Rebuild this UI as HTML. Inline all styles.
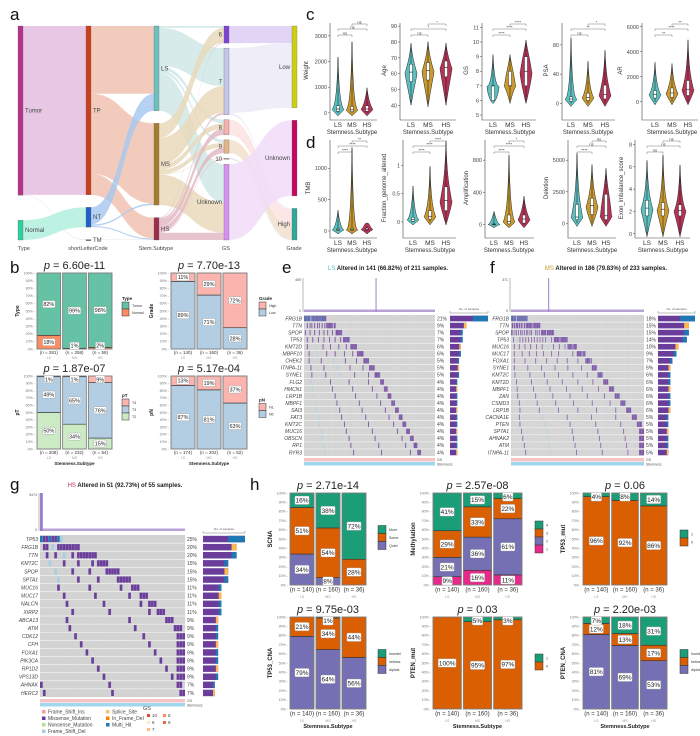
<!DOCTYPE html>
<html><head><meta charset="utf-8"><style>
html,body{margin:0;padding:0;background:#fff;}
svg{display:block;font-family:"Liberation Sans",sans-serif;}
</style></head><body>
<svg id="fig" width="700" height="736" viewBox="0 0 700 736"></svg>
<script>
// ===== Sankey data (panel a) =====
const layerNames=['Type','shortLetterCode','Stem.Subtype','GS','Grade'];
const layerNodes=[['Tumor','Normal'],['TP','NT','TM'],['LS','MS','HS'],['6','7','8','9','10','Unknown'],['Low','Unknown','High']];
const flowSrc=['0:Tumor','0:Tumor','0:Normal','1:TP','1:TP','1:TP','1:NT','1:NT','1:NT','1:TM',
'2:LS','2:LS','2:LS','2:LS','2:LS','2:MS','2:MS','2:MS','2:MS','2:MS','2:MS','2:HS','2:HS','2:HS','2:HS','2:HS','2:HS',
'3:6','3:7','3:7','3:8','3:9','3:10','3:Unknown'];
const flowDst=['1:TP','1:TM','1:NT','2:LS','2:MS','2:HS','2:LS','2:MS','2:HS','2:HS',
'3:6','3:7','3:8','3:9','3:Unknown','3:6','3:7','3:8','3:9','3:10','3:Unknown','3:6','3:7','3:8','3:9','3:10','3:Unknown',
'4:Low','4:Low','4:High','4:High','4:High','4:High','4:Unknown'];
const flowVal=[444,1,52,178,211,55,45,4,3,1,
5,100,10,8,100,38,70,14,12,1,80,2,5,16,15,2,19,
45,170,5,40,35,3,199];

// ===== Violin data (panels c,d) : [min,q1,median,q3,max] per LS,MS,HS =====
const vWeight=[[0,60,150,280,2100],[0,50,120,250,2700],[0,60,150,280,900]];
const vAge=[[42,55,61,66,78],[41,56,62,67,79],[42,58,64,68,78]];
const vGS=[[6,6,7,7,9],[6,7,7,8,9],[6,7,8,9,10]];
const vPSA=[[0,3,6,9,87],[0,4,8,14,55],[0,6,12,25,70]];
const vAR=[[0,300,600,900,3000],[0,350,700,1100,2900],[0,500,1000,1700,4800]];
const vTMB=[[0,10,20,40,300],[0,10,20,40,1300],[0,15,25,45,80]];
const vFrac=[[0,0.01,0.04,0.08,0.6],[0,0.05,0.1,0.2,0.95],[0,0.2,0.38,0.62,1.4]];
const vAmp=[[0,0,5,10,140],[0,10,40,120,840],[0,20,70,120,330]];
const vDel=[[0,300,500,1500,5400],[0,700,1400,2000,4500],[0,300,600,2300,4200]];
const vExon=[[0,1.6,2.3,3,6.4],[0,1.6,2.2,2.8,6.9],[0,1.6,2.1,2.6,6]];
const sigWeight=['ns','ns','ns'],sigAge=['ns','*','*'],sigGS=['****','****','****'],sigPSA=['ns','**','*'],sigAR=['**','****','**'];
const sigTMB=['****','****','**'],sigFrac=['****','****','****'],sigAmp=['****','****','*'],sigDel=['****','ns','ns'],sigExon=['ns','ns','ns'];
const groups=['LS','MS','HS'];

// ===== Stacked bar data (panels b,h): segments bottom->top, values LS,MS,HS =====
const bType=[[18,1,2],[82,99,98]];
const bGrade=[[89,71,28],[11,29,72]];
const bPT=[[50,34,15],[49,65,76],[1,1,9]];
const bPN=[[87,81,63],[13,19,37]];
const hSCNA=[[34,8,0],[51,54,28],[16,38,72]];
const hMeth=[[9,16,11],[21,36,61],[29,33,22],[41,15,6]];
const hTP53mut=[[96,92,86],[4,8,14]];
const hTP53cna=[[79,64,56],[21,34,44],[0,1,0]];
const hPTENmut=[[100,95,97],[0,5,3]];
const hPTENcna=[[81,69,53],[12,13,17],[7,18,31]];
const nB1=['(n = 281)','(n = 258)','(n = 58)'],nB2=['(n = 140)','(n = 160)','(n = 36)'],nB3=['(n = 208)','(n = 232)','(n = 54)'],nB4=['(n = 174)','(n = 202)','(n = 52)'];
const nH=['(n = 140)','(n = 160)','(n = 36)'];

// ===== Oncoprint data (panels e,f,g) =====
const genesE=['FRG1B','TTN','SPOP','TP53','KMT2D','MBPF10','CHEK2','ITNPA-11','SYNE1','FLG2','HMCN1','LRP1B','MBPF1','SAI3','FAT3','KMT2C','MUC16','OBSCN','RP1','RYR3'];
const pctE=[21,9,7,7,6,6,5,5,5,4,4,4,4,4,4,4,4,4,4,4];
const genesF=['FRG1B','TTN','SPOP','TP53','MUC16','MUC17','FOXA1','SYNE1','KMT2C','KMT2D','MBPF1','ZAN','CSMD3','LRP1B','CACNA1E','PTEN','SPTA1','AHNAK2','ATM','ITNPA-11'];
const pctF=[18,15,15,14,10,9,7,6,6,6,6,6,6,6,5,5,5,5,5,5];
const genesG=['TP53','FRG1B','TTN','KMT2C','SPOP','SPTA1','MUC16','MUC17','NALCN','XIRP2','ABCA13','ATM','CDK12','CFH','FOXA1','PIK3CA','RP1D2','VPS13D','AHNAK','HERC2'];
const pctG=[25,20,20,15,15,15,11,11,11,11,9,9,9,9,9,9,9,9,7,7];

const NS='http://www.w3.org/2000/svg';
const svg=document.getElementById('fig');
function mk(tag,parent,attrs){const e=document.createElementNS(NS,tag);for(const k in attrs)e.setAttribute(k,attrs[k]);(parent||svg).appendChild(e);return e;}
function tx(parent,x,y,s,size,fill,anchor,extra){const e=mk('text',parent,{x:x,y:y,'font-size':size,fill:fill||'#222','text-anchor':anchor||'start'});if(extra)for(const k in extra)e.setAttribute(k,extra[k]);e.textContent=s;return e;}

// panel letters
[['a',10,20],['b',10,273],['c',306,20],['d',306,148],['e',282,273],['f',490,273],['g',10,490],['h',250,490]].forEach(p=>{
  const t=tx(svg,p[1],p[2],p[0],17,'#111');
  
  
});

// ===== Sankey =====
(function(){
  const g=mk('g');
  
  
  const colX=[18,86,154,224,292],nw=5,top=26,H=214;
  const nodeCol={'0:Tumor':'#b5338a','0:Normal':'#2fcf9f','1:TP':'#c93e1c','1:NT':'#1f5fc9','1:TM':'#555','2:LS':'#6cc0bd','2:MS':'#a67d2c','2:HS':'#9c2d4c','3:6':'#7a44d6','3:7':'#c5c5ea','3:8':'#f7b0b0','3:9':'#e2b48a','3:10':'#aaa','3:Unknown':'#d590f2','4:Low':'#cfcf10','4:Unknown':'#c4095e','4:High':'#2ea898'};
  const flowCol={'0:Tumor':'#e4bde0','0:Normal':'#b2efdc','1:TP':'#f1c2b2','1:NT':'#a9c9ee','1:TM':'#ddd','2:LS':'#cfe8e6','2:MS':'#e9d9bb','2:HS':'#e2b8c4','3:6':'#dcccf3','3:7':'#ebeaf7','3:8':'#fde2e2','3:9':'#f2dfcc','3:10':'#ddd','3:Unknown':'#f1dcf9'};
  const val={};
  flowSrc.forEach((s,i)=>{val[s]=(val[s]||0)+flowVal[i];});
  flowDst.forEach((d,i)=>{if(d[0]!=='0'&&(d[0]==='4'||!flowSrc.includes(d)))val[d]=(val[d]||0)+flowVal[i];});
  let total=0;layerNodes[0].forEach(n=>total+=val['0:'+n]);
  const sc=(H-5*5)/total;
  const pos={},outOff={},inOff={};
  layerNodes.forEach((nodes,L)=>{
    let sum=0;nodes.forEach(n=>sum+=val[L+':'+n]*sc);
    const gap=nodes.length>1?(H-sum)/(nodes.length-1):0;
    let y=top;
    nodes.forEach(n=>{const k=L+':'+n;pos[k]=[y,val[k]*sc];outOff[k]=0;inOff[k]=0;y+=val[k]*sc+gap;});
  });
  flowVal.forEach((v,i)=>{
    const s=flowSrc[i],d=flowDst[i],h=v*sc;
    const x1=colX[+s[0]]+nw,x2=colX[+d[0]];
    const y1=pos[s][0]+outOff[s],y2=pos[d][0]+inOff[d];
    outOff[s]+=h;inOff[d]+=h;
    const mx=(x1+x2)/2;
    const p=mk('path',g,{d:`M${x1},${y1}C${mx},${y1} ${mx},${y2} ${x2},${y2}L${x2},${y2+h}C${mx},${y2+h} ${mx},${y1+h} ${x1},${y1+h}Z`,fill:flowCol[s],'fill-opacity':0.85});
    
    
  });
  layerNodes.forEach((nodes,L)=>{
    nodes.forEach(n=>{
      const k=L+':'+n;
      const r=mk('rect',g,{x:colX[L],y:pos[k][0],width:nw,height:Math.max(pos[k][1],1),fill:nodeCol[k],stroke:'#666','stroke-width':0.3});
      
      
      const lx=L===3?colX[L]-2:(L===4?colX[L]-2:colX[L]+nw+2);
      const t=tx(g,lx,pos[k][0]+pos[k][1]/2+2,n,6,'#444',(L>=3)?'end':'start');
      
      
    });
    const t=tx(g,colX[L]+(L===0?0:2),250,layerNames[L],5.5,'#444',L===0?'start':'middle');
    
    
  });
})();

// ===== Violins =====
const vCol=['#5bbfbf','#c9992e','#b63358'];
function violin(cfg){
  const g=mk('g');
  
  
  const y=v=>cfg.y1-(v-cfg.d0)/(cfg.d1-cfg.d0)*(cfg.y1-cfg.y0);
  const ax=mk('path',g,{d:`M${cfg.ax},${cfg.y0}V${cfg.y1+2}H${cfg.gx[2]+10}`,stroke:'#444','stroke-width':0.6,fill:'none'});
  
  
  cfg.ticks.forEach(t=>{
    mk('line',g,{x1:cfg.ax-2,x2:cfg.ax,y1:y(t),y2:y(t),stroke:'#444','stroke-width':0.5});
    const l=tx(g,cfg.ax-3,y(t)+2,String(t),5.5,'#444','end');
    
    
  });
  const yl=tx(g,0,0,cfg.ylab,6,'#333','middle',{transform:`translate(${cfg.ax-(cfg.lw||18)},${(cfg.y0+cfg.y1)/2}) rotate(-90)`});
  
  
  cfg.data.forEach((s,i)=>{
    const cx=cfg.gx[i],w=7;
    const [mn,q1,md,q3,mx]=s;
    const yb=y(mn)+3,yt=y(mx)-2;
    const p=mk('path',g,{d:`M${cx},${yb}C${cx-w*0.6},${y(q1)} ${cx-w},${y(md)} ${cx-w*0.8},${y(md)}C${cx-w*0.5},${y(q3)} ${cx-1},${y(q3)-8} ${cx},${yt}C${cx+1},${y(q3)-8} ${cx+w*0.5},${y(q3)} ${cx+w*0.8},${y(md)}C${cx+w},${y(md)} ${cx+w*0.6},${y(q1)} ${cx},${yb}Z`,fill:vCol[i],stroke:'#222','stroke-width':0.5});
    
    
    mk('line',g,{x1:cx,x2:cx,y1:y(mn),y2:y(mx),stroke:'#111','stroke-width':0.5});
    const b=mk('rect',g,{x:cx-1.5,y:y(q3),width:3,height:Math.max(y(q1)-y(q3),1),fill:'#fff',stroke:'#111','stroke-width':0.4});
    
    
    mk('line',g,{x1:cx-1.5,x2:cx+1.5,y1:y(md),y2:y(md),stroke:'#111','stroke-width':0.6});
    const l=tx(g,cx,cfg.y1+9,groups[i],6.5,'#333','middle');
    
    
  });
  const xt=tx(g,cfg.gx[1],cfg.y1+16,'Stemness.Subtype',6,'#333','middle');
  
  
  const pairs=[[0,1,cfg.y0+12],[0,2,cfg.y0+6],[1,2,cfg.y0+1]];
  pairs.forEach((pr,k)=>{
    const a=cfg.gx[pr[0]],b=cfg.gx[pr[1]],yy=pr[2];
    mk('path',g,{d:`M${a},${yy+2}V${yy}H${b}V${yy+2}`,stroke:'#555','stroke-width':0.4,fill:'none'});
    const l=tx(g,(a+b)/2,yy-0.5,cfg.sig[k],4,'#333','middle');
    
    
  });
}
const cy0=23,cy1=118,dy0=140,dy1=236;
violin({ylab:'Weight',data:vWeight,sig:sigWeight,d0:-200,d1:3500,ticks:[0,1000,2000,3000],ax:330,gx:[338,352,367],y0:cy0,y1:cy1,lw:22});
violin({ylab:'Age',data:vAge,sig:sigAge,d0:32,d1:92,ticks:[40,50,60,70,80,90],ax:400,gx:[411,428,446],y0:cy0,y1:cy1,lw:14});
violin({ylab:'GS',data:vGS,sig:sigGS,d0:4.8,d1:11.3,ticks:[5,6,7,8,9,10,11],ax:482,gx:[493,510,526],y0:cy0,y1:cy1,lw:14});
violin({ylab:'PSA',data:vPSA,sig:sigPSA,d0:-20,d1:110,ticks:[0,40,80],ax:562,gx:[571,588,605],y0:cy0,y1:cy1,lw:14});
violin({ylab:'AR',data:vAR,sig:sigAR,d0:-1300,d1:6300,ticks:[0,2000,4000,6000],ax:642,gx:[655,672,688],y0:cy0,y1:cy1,lw:20});
violin({ylab:'TMB',data:vTMB,sig:sigTMB,d0:-80,d1:1450,ticks:[0,500,1000],ax:330,gx:[338,352,367],y0:dy0,y1:dy1,lw:20});
violin({ylab:'Fraction_genome_altered',data:vFrac,sig:sigFrac,d0:-0.25,d1:1.45,ticks:[0,0.5,1],ax:403,gx:[413,430,446],y0:dy0,y1:dy1,lw:17});
violin({ylab:'Amplification',data:vAmp,sig:sigAmp,d0:-140,d1:1050,ticks:[0,400,800],ax:485,gx:[494,509,524],y0:dy0,y1:dy1,lw:17});
violin({ylab:'Deletion',data:vDel,sig:sigDel,d0:-1000,d1:6600,ticks:[0,2500,5000],ax:568,gx:[577,592,606],y0:dy0,y1:dy1,lw:20});
violin({ylab:'Exon_imbalance_score',data:vExon,sig:sigExon,d0:-0.2,d1:8.4,ticks:[0,2,4,6,8],ax:635,gx:[647,663,680],y0:dy0,y1:dy1,lw:12});

// ===== Stacked bars =====
function stack(cfg){
  const g=mk('g');
  
  
  const gap=2,bw=(cfg.w-2*gap)/3;
  const ys=v=>cfg.y+cfg.h-v/100*cfg.h;
  for(let t=0;t<=100;t+=10){
    const l=tx(g,cfg.x-2,ys(t)+1.3,t+'% -',3.6,'#777','end');
    
    
  }
  const yl=tx(g,0,0,cfg.ylab,cfg.ls||5,'#222','middle',{transform:`translate(${cfg.x-18},${cfg.y+cfg.h/2}) rotate(-90)`,'font-weight':'bold'});
  
  
  const ti=mk('text',g,{x:cfg.x+cfg.w/2,y:cfg.y-4,'font-size':11,fill:'#222','text-anchor':'middle'});
  ti.innerHTML='<tspan font-style="italic">p</tspan> = '+cfg.title;
  
  
  for(let i=0;i<3;i++){
    const bx=cfg.x+i*(bw+gap);
    let sum=0;cfg.series.forEach(s=>sum+=s[i]);
    let cum=0;
    cfg.series.forEach((s,k)=>{
      const v=s[i]*100/sum;
      const r=mk('rect',g,{x:bx,y:ys(cum+v),width:bw,height:v/100*cfg.h,fill:cfg.colors[k],stroke:'#333','stroke-width':0.6});
      
      
      cum+=v;
    });
    const o=mk('rect',g,{x:bx,y:cfg.y,width:bw,height:cfg.h,fill:'none',stroke:'#888','stroke-width':0.8});
    
    
    cum=0;
    cfg.series.forEach((s,k)=>{
      const v=s[i]*100/sum;
      if(s[i]>0||(cfg.showZero&&k===0)){
        const lab=s[i]+'%',fs=cfg.fs||5.5,lw=lab.length*fs*0.58+3;
        const cyy=Math.min(Math.max(ys(cum+v/2),cfg.y+fs*0.6),cfg.y+cfg.h-fs*0.6);
        const r=mk('rect',g,{x:bx+bw/2-lw/2,y:cyy-fs*0.65,width:lw,height:fs*1.3,rx:1,fill:'#fff',stroke:'#999','stroke-width':0.4});
        
        
        const t=tx(g,bx+bw/2,cyy+fs*0.36,lab,fs,'#222','middle');
        
        
      }
      cum+=v;
    });
    const n=tx(g,bx+bw/2,cfg.y+cfg.h+(cfg.fs?6.5:5),cfg.ns[i],cfg.fs?6:4.5,'#333','middle');
    
    
    const gl=tx(g,bx+bw/2,cfg.y+cfg.h+(cfg.fs?13:10),groups[i],3.5,'#999','middle');
    
    
  }
  if(cfg.xtitle){
    const xt=tx(g,cfg.x+cfg.w/2,cfg.y+cfg.h+(cfg.fs?19:16),'Stemness.Subtype',cfg.fs?5.5:4.5,'#222','middle',{'font-weight':'bold'});
    
    
  }
  const lx=cfg.x+cfg.w+cfg.lg,ly=cfg.y+cfg.h/2-cfg.keys.length*4.5;
  if(cfg.ltitle){
    const lt=tx(g,lx,ly-2,cfg.ltitle,4.5,'#222','start',{'font-weight':'bold'});
    
    
  }
  const ks=cfg.ks||7;
  cfg.keys.forEach((k,j)=>{
    const idx=cfg.keys.length-1-j;
    const r=mk('rect',g,{x:lx,y:ly+j*ks,width:ks,height:ks,fill:cfg.colors[idx],stroke:'#333','stroke-width':0.5});
    
    
    const t=tx(g,lx+ks+3,ly+j*ks+ks/2+1.3,cfg.keys[idx],3.6,'#333');
    
    
  });
}
const D2=['#7570b3','#d95f02','#1b9e77'];
stack({ylab:'Type',title:'6.60e-11',series:bType,colors:['#fc8d62','#66c2a5'],keys:['Normal','Tumor'],ltitle:'Type',ns:nB1,x:37,y:273,w:75,h:76,lg:10,ks:7});
stack({ylab:'Grade',title:'7.70e-13',series:bGrade,colors:['#b3cde3','#fbb4ae'],keys:['Low','High'],ltitle:'Grade',ns:nB2,x:171,y:273,w:76,h:76,lg:12,ks:7});
stack({ylab:'pT',title:'1.87e-07',series:bPT,colors:['#ccebc5','#b3cde3','#fbb4ae'],keys:['T2','T3','T4'],ltitle:'pT',ns:nB3,x:37,y:376,w:75,h:73,lg:10,ks:7,xtitle:true});
stack({ylab:'pN',title:'5.17e-04',series:bPN,colors:['#b3cde3','#fbb4ae'],keys:['N0','N1'],ltitle:'pN',ns:nB4,x:171,y:376,w:76,h:73,lg:12,ks:7,xtitle:true});
stack({ylab:'SCNA',title:'2.71e-14',series:hSCNA,colors:D2,keys:['Quiet','Some','More'],ns:nH,x:290,y:493,w:76,h:92,lg:12,ks:8,fs:6.5,ls:6});
stack({ylab:'Methylation',title:'2.57e-08',series:hMeth,colors:['#e7298a','#7570b3','#d95f02','#1b9e77'],keys:['1','2','3','4'],ns:nH,x:433,y:493,w:89,h:92,lg:13,ks:8,fs:6.5,ls:6,showZero:true});
stack({ylab:'TP53_mut',title:'0.06',series:hTP53mut,colors:['#d95f02','#1b9e77'],keys:['0','1'],ns:nH,x:583,y:493,w:84,h:92,lg:13,ks:8,fs:6.5,ls:6});
stack({ylab:'TP53_CNA',title:'9.75e-03',series:hTP53cna,colors:D2,keys:['diploid','hetloss','homdel'],ns:nH,x:290,y:617,w:76,h:92,lg:12,ks:8,fs:6.5,ls:6,xtitle:true});
stack({ylab:'PTEN_mut',title:'0.03',series:hPTENmut,colors:['#d95f02','#1b9e77'],keys:['0','1'],ns:nH,x:433,y:617,w:89,h:92,lg:13,ks:8,fs:6.5,ls:6,xtitle:true});
stack({ylab:'PTEN_CNA',title:'2.20e-03',series:hPTENcna,colors:D2,keys:['diploid','hetloss','homdel'],ns:nH,x:583,y:617,w:84,h:92,lg:13,ks:8,fs:6.5,ls:6,xtitle:true});

// ===== Oncoprints =====
function onco(cfg){
  const g=mk('g');
  
  
  const rows=cfg.genes.length,rh=cfg.h/rows,cw=cfg.w/cfg.N;
  const bg=mk('rect',g,{x:cfg.x,y:cfg.y,width:cfg.w,height:cfg.h,fill:'#d2d2d2'});
  
  
  let cursor=0;
  const maxP=Math.max(...cfg.pcts);
  cfg.pcts.forEach((p,i)=>{
    const cnt=Math.max(1,Math.round(p/100*cfg.total));
    const block=Math.max(1,Math.round(cnt*0.55));
    const scat=cnt-block;
    const cells=[];
    for(let c=0;c<block;c++)cells.push(Math.min(cfg.N-1,cursor+c));
    for(let k=0;k<scat&&cursor>0;k++)cells.push(Math.floor(((k+0.5)/scat)*cursor+i*2)%cursor);
    cursor=Math.min(cfg.N-block,cursor+block);
    cells.forEach((c,j)=>{
      const col=(i===0&&c%3===0)?'#1f78b4':((j%11===7)?'#a6cee3':'#6a3d9a');
      const r=mk('rect',g,{x:cfg.x+c*cw,y:cfg.y+i*rh+rh*0.12,width:Math.max(cw,0.8),height:rh*0.76,fill:col});
      
      
    });
    const gl=tx(g,cfg.x-2,cfg.y+i*rh+rh/2+1.8,cfg.genes[i],5,'#444','end',{'font-style':'italic'});
    
    
    const pl=tx(g,cfg.x+cfg.w+2,cfg.y+i*rh+rh/2+1.8,p+'%',5,'#444');
    
    
    const bwid=p/maxP*cfg.bw;
    const b=mk('rect',g,{x:cfg.bx,y:cfg.y+i*rh+rh*0.1,width:bwid,height:rh*0.8,fill:'#6a3d9a'});
    
    
    const b2=mk('rect',g,{x:cfg.bx+bwid*(i===0?0.6:0.85),y:cfg.y+i*rh+rh*0.1,width:bwid*(i===0?0.4:0.15),height:rh*0.8,fill:i%3===1?'#ffb74d':'#1f78b4'});
    
    
  });
  for(let i=1;i<rows;i++)mk('line',g,{x1:cfg.x,x2:cfg.x+cfg.w,y1:cfg.y+i*rh,y2:cfg.y+i*rh,stroke:'#fff','stroke-width':0.5});
  for(let c=1;c<cfg.N;c++)mk('line',g,{x1:cfg.x+c*cw,x2:cfg.x+c*cw,y1:cfg.y,y2:cfg.y+cfg.h,stroke:'#e8e8e8','stroke-width':0.15});
  // bar axis above
  mk('path',g,{d:`M${cfg.bx},${cfg.y-4}V${cfg.y-2}H${cfg.bx+cfg.bw}V${cfg.y-4}`,stroke:'#555','stroke-width':0.4,fill:'none'});
  tx(g,cfg.bx+cfg.bw/2,cfg.y-5,'No. of samples',3,'#555','middle');
  // TMB
  mk('line',g,{x1:cfg.x-1,x2:cfg.x-1,y1:cfg.ty,y2:cfg.ty+cfg.th,stroke:'#888','stroke-width':0.6});
  tx(g,cfg.x-3,cfg.ty+3,cfg.tmax,3.5,'#555','end');
  tx(g,cfg.x-3,cfg.ty+cfg.th,'0',3.5,'#555','end');
  const st=mk('rect',g,{x:cfg.x,y:cfg.ty+cfg.th-2.5,width:cfg.w,height:2.5,fill:'#b9a3d6'});
  
  
  const sp=mk('rect',g,{x:cfg.x+cfg.spike*cw,y:cfg.ty,width:Math.max(cw,1),height:cfg.th,fill:'#9b7fcf'});
  
  
  // annotation strips
  const a1=mk('rect',g,{x:cfg.x,y:cfg.y+cfg.h+2,width:cfg.w,height:3.5,fill:'#f4c4c4'});
  
  
  const a2=mk('rect',g,{x:cfg.x,y:cfg.y+cfg.h+6,width:cfg.w,height:3.5,fill:'#9fd8ee'});
  
  
  tx(g,cfg.x+cfg.w+2,cfg.y+cfg.h+5,'GS',3.5,'#555');
  tx(g,cfg.x+cfg.w+2,cfg.y+cfg.h+9.5,'Stemness',3.5,'#555');
  const ti=mk('text',g,{x:cfg.tx,y:cfg.tyy,'font-size':6,'font-weight':'bold',fill:'#222','text-anchor':'middle'});
  ti.innerHTML=`<tspan fill="${cfg.sc}" font-weight="normal">${cfg.sub}</tspan> Altered in ${cfg.alt} of ${cfg.total} samples.`;
  
  
}
onco({sub:'LS',sc:'#5bbfbf',alt:'141 (66.82%)',genes:genesE,pcts:pctE,N:141,total:211,x:304,y:315,w:131,h:141,bx:450,bw:38,ty:278,th:34,tmax:'459',spike:77,tx:388,tyy:270});
onco({sub:'MS',sc:'#c9992e',alt:'186 (79.83%)',genes:genesF,pcts:pctF,N:186,total:233,x:511,y:315,w:133,h:141,bx:658,bw:37,ty:278,th:34,tmax:'371',spike:52,tx:606,tyy:270});
onco({sub:'HS',sc:'#b63358',alt:'51 (92.73%)',genes:genesG,pcts:pctG,N:51,total:55,x:40,y:535,w:145,h:162,bx:203,bw:42,ty:493,th:38,tmax:'5474',spike:0,tx:125,tyy:487});

// Oncoprint legend (panel g)
const legKeys=['Frame_Shift_Ins','Missense_Mutation','Nonsense_Mutation','Frame_Shift_Del','Splice_Site','In_Frame_Del','Multi_Hit'];
const legCols=['#fb9a99','#6a3d9a','#b2df8a','#a6cee3','#fdbf6f','#ff7f00','#1f78b4'];
legKeys.forEach((k,i)=>{
  const col=i<4?0:1,row=i<4?i:i-4;
  const x=42+col*64,y=713+row*6.5;
  const r=mk('rect',svg,{x:x,y:y-3,width:3.5,height:3.5,fill:legCols[i]});
  
  
  const t=tx(svg,x+6,y+0.5,k,5,'#444');
  
  
});
const gsT=tx(svg,143,710,'GS',5.5,'#444');


[['10',147,717,'#e34a33'],['8',163,717,'#fc8d59'],['6',147,724,'#fee8c8'],['9',163,724,'#ef6548'],['7',147,731,'#fdbb84']].forEach(e=>{
  const r=mk('rect',svg,{x:e[1],y:e[2]-3,width:3,height:3,fill:e[3]});
  
  
  const t=tx(svg,e[1]+5,e[2],e[0],4.5,'#444');
  
  
});
</script>
</body></html>
